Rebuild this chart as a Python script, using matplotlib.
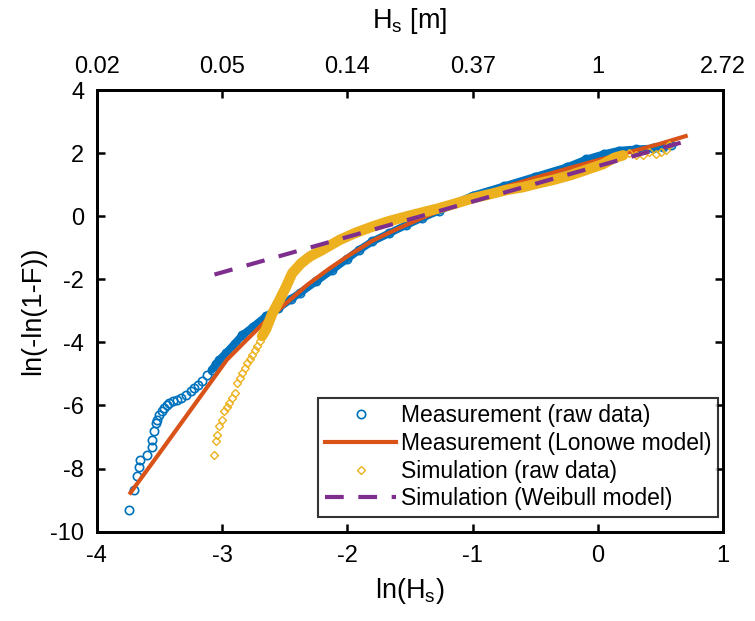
import numpy as np
import matplotlib
matplotlib.use("Agg")
import matplotlib.pyplot as plt

plt.rcParams['font.family'] = ['Liberation Sans', 'DejaVu Sans']
plt.rcParams['mathtext.fontset'] = 'custom'
plt.rcParams['mathtext.rm'] = 'Liberation Sans'
plt.rcParams['mathtext.it'] = 'Liberation Sans'
plt.rcParams['axes.unicode_minus'] = False

# measurement, raw data (ln(Hs), ln(-ln(1-F)))
meas_x = [-3.742, -3.70, -3.68, -3.66, -3.656, -3.60, -3.56, -3.556, -3.54, -3.53,
          -3.52, -3.50, -3.48, -3.46, -3.44, -3.42, -3.39, -3.36, -3.33, -3.29,
          -3.25, -3.22, -3.19, -3.16, -3.12, -3.08, -3.05, -3.02, -2.97, -2.90,
          -2.84, -2.75, -2.65, -2.55, -2.45, -2.38, -2.25, -2.12, -2.00, -1.905,
          -1.80, -1.665, -1.53, -1.40, -1.27, -1.00, -0.75, -0.50, -0.25, -0.094,
          0.05, 0.17, 0.30, 0.44, 0.52, 0.58]
meas_y = [-9.33, -8.67, -8.23, -7.95, -7.72, -7.56, -7.32, -7.09, -6.82, -6.56,
          -6.45, -6.29, -6.18, -6.08, -6.00, -5.92, -5.86, -5.82, -5.75, -5.66,
          -5.55, -5.45, -5.35, -5.24, -5.05, -4.87, -4.70, -4.55, -4.35, -4.05,
          -3.78, -3.50, -3.18, -2.92, -2.63, -2.44, -2.07, -1.70, -1.35, -1.07,
          -0.80, -0.54, -0.28, -0.05, 0.17, 0.65, 0.95, 1.25, 1.55, 1.80,
          1.97, 2.08, 2.12, 2.15, 2.20, 2.26]

# measurement, lognormal model
logn_x = [-3.73, -3.50, -3.24, -2.96, -2.81, -2.65, -2.50, -2.32, -2.15, -1.99, -1.80,
          -1.60, -1.40, -1.20, -1.00, -0.75, -0.50, -0.25, 0.00, 0.25, 0.50, 0.70]
logn_y = [-8.77, -7.52, -6.09, -4.55, -3.95, -3.32, -2.80, -2.18, -1.68, -1.25, -0.78,
          -0.40, -0.05, 0.28, 0.58, 0.92, 1.22, 1.50, 1.78, 2.03, 2.30, 2.54]

# simulation, raw data
sim_x = [-3.063, -3.05, -3.04, -3.02, -3.00, -2.98, -2.96, -2.94, -2.92, -2.90, -2.88,
         -2.86, -2.84, -2.82, -2.80, -2.78, -2.76, -2.74, -2.72, -2.70, -2.68, -2.65,
         -2.60, -2.54, -2.49, -2.44, -2.37, -2.30, -2.20,
         -2.06, -1.93, -1.80, -1.67, -1.53, -1.40, -1.27, -1.13, -1.00, -0.86, -0.73,
         -0.60, -0.47, -0.36, -0.22, -0.094, 0.04, 0.13, 0.20, 0.25, 0.30, 0.36, 0.41,
         0.46, 0.50, 0.54, 0.57]
sim_y = [-7.58, -7.14, -6.93, -6.66, -6.45, -6.19, -6.05, -5.92, -5.76, -5.61, -5.29,
         -5.13, -4.97, -4.82, -4.66, -4.53, -4.40, -4.25, -4.10, -3.95, -3.80, -3.60,
         -3.10, -2.65, -2.25, -1.81, -1.50, -1.28, -1.07,
         -0.75, -0.52, -0.33, -0.16, -0.01, 0.12, 0.25, 0.41, 0.57, 0.70, 0.83,
         0.92, 1.05, 1.15, 1.30, 1.47, 1.65, 1.85, 1.93, 2.00, 1.95, 1.94, 2.02,
         1.97, 2.05, 2.10, 2.26]

# simulation, Weibull model (straight line)
weib_x = [-3.06, 0.66]
weib_y = [-1.85, 2.33]

top_ticks = [-4, -3, -2, -1, 0, 1]
top_labels = ['0.02', '0.05', '0.14', '0.37', '1', '2.72']

c_blue = '#0072BD'
c_orange = '#D95319'
c_yellow = '#EDB120'
c_purple = '#7E2F8E'

fig = plt.figure(figsize=(7.55, 6.21), dpi=100)
ax = fig.add_axes([0.128, 0.144, 0.830, 0.711])

mx = np.array(meas_x)
my = np.array(meas_y)
sx = np.array(sim_x)
sy = np.array(sim_y)

# dense parts of the raw data look like solid bands
ax.plot(mx[mx > -3.1], my[mx > -3.1], color=c_blue, lw=5.5, solid_capstyle='round', zorder=1)
ax.plot(mx, my, 'o', color=c_blue, mfc='none', ms=6, mew=1.2, zorder=1,
        label='Measurement (raw data)')
ax.plot(logn_x, logn_y, '-', color=c_orange, lw=3, zorder=2,
        label='Measurement (Lonowe model)')
band = (sx > -2.69) & (sx < 0.22)
ax.plot(sx[band], sy[band], color=c_yellow, lw=7.5, solid_capstyle='round', zorder=3)
ax.plot(sx, sy, 'D', color=c_yellow, mfc='none', ms=4.5, mew=1.0, zorder=3,
        label='Simulation (raw data)')
ax.plot(weib_x, weib_y, '--', color=c_purple, lw=3, dashes=(4.5, 3.5), zorder=4,
        label='Simulation (Weibull model)')

ax.set_xlim(-4, 1)
ax.set_ylim(-10, 4)
ax.set_xticks([-4, -3, -2, -1, 0, 1])
ax.set_yticks([-10, -8, -6, -4, -2, 0, 2, 4])
ax.tick_params(direction='in', length=6, width=1.8, labelsize=17, right=True)
ax.tick_params(axis='x', pad=10)
ax.tick_params(axis='y', pad=9)
for s in ax.spines.values():
    s.set_linewidth(2)
ax.set_xlabel(r'ln(H$_{\mathrm{s}}$)', fontsize=19.5, labelpad=6)
ax.set_ylabel('ln(-ln(1-F))', fontsize=19.5, labelpad=3)

top = ax.twiny()
top.set_xlim(ax.get_xlim())
top.set_xticks(top_ticks)
top.set_xticklabels(top_labels)
top.tick_params(direction='in', length=6, width=1.8, labelsize=17, pad=9)
top.set_xlabel(r'H$_{\mathrm{s}}$ [m]', fontsize=19.5, labelpad=20)
for s in top.spines.values():
    s.set_linewidth(2)

leg = ax.legend(loc='lower right', bbox_to_anchor=(0.992, 0.033), fontsize=16.5,
                frameon=True, fancybox=False, handlelength=3.1, labelspacing=0.2,
                borderpad=0.3, handletextpad=0.2, borderaxespad=0)
leg.get_frame().set_edgecolor('black')
leg.get_frame().set_linewidth(1.5)

fig.savefig('out.png', dpi=100)
